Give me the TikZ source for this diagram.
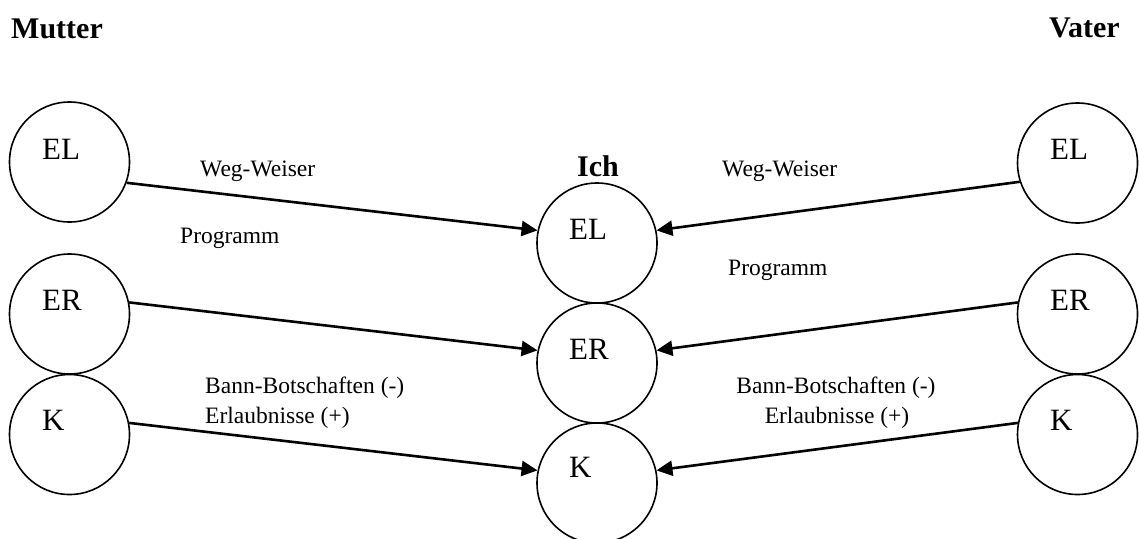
\documentclass[tikz,border=0pt]{standalone}
\usepackage{fontspec}
\setmainfont{Liberation Serif}
\usetikzlibrary{arrows.meta}
\begin{document}
\begin{tikzpicture}[x=1pt,y=-1pt,
  circ/.style={draw, circle, line width=1.6pt, minimum size=120pt, inner sep=0pt},
  clab/.style={anchor=base west, inner sep=0pt, font=\fontsize{31}{36}\selectfont},
  head/.style={anchor=base west, inner sep=0pt, font=\fontsize{30}{35}\selectfont\bfseries},
  small/.style={inner sep=0pt, font=\fontsize{23.5}{28}\selectfont},
  arr/.style={line width=2.6pt, -{Triangle[length=16pt,width=15pt]}}]
\useasboundingbox (0,0) rectangle (1139,538);
% headings
\node[head] (mutter) at (11,38) {Mutter};
\node[head] (vater) at (1049,37) {Vater};
\node[head, anchor=base] (ich) at (598,176) {Ich};
% circles
\node[circ] (mEL) at (69.5,162) {};
\node[circ] (mER) at (69.5,314) {};
\node[circ] (mK) at (69.5,434.5) {};
\node[circ] (iEL) at (597,243) {};
\node[circ] (iER) at (597,363) {};
\node[circ] (iK) at (597,483) {};
\node[circ] (vEL) at (1077.5,163) {};
\node[circ] (vER) at (1077.5,314) {};
\node[circ] (vK) at (1077.5,434.5) {};
% circle labels
\node[clab] (tmEL) at (42,159) {EL};
\node[clab] (tmER) at (42,310) {ER};
\node[clab] (tmK) at (42,430) {K};
\node[clab] (tiEL) at (569,239) {EL};
\node[clab] (tiER) at (569,359) {ER};
\node[clab] (tiK) at (569,477) {K};
\node[clab] (tvEL) at (1050,159) {EL};
\node[clab] (tvER) at (1050,310) {ER};
\node[clab] (tvK) at (1050,430) {K};
% connector labels
\node[small, anchor=base west] (lw1) at (200,176) {Weg-Weiser};
\node[small, anchor=base west] (lp1) at (180,243) {Programm};
\node[small, anchor=base west] (lw2) at (722,176) {Weg-Weiser};
\node[small, anchor=base west] (lp2) at (728,275) {Programm};
\node[small, anchor=base west] (lb1) at (205,393) {Bann-Botschaften (-)};
\node[small, anchor=base west] (le1) at (205,423) {Erlaubnisse (+)};
\node[small, anchor=base] (lb2) at (836,393) {Bann-Botschaften (-)};
\node[small, anchor=base] (le2) at (837,423) {Erlaubnisse (+)};
% arrows
\draw[arr] (mEL.-20) -- (iEL.168);
\draw[arr] (mER.11) -- (iER.168);
\draw[arr] (mK.11) -- (iK.168);
\draw[arr] (vEL.198) -- (iEL.12);
\draw[arr] (vER.169) -- (iER.12);
\draw[arr] (vK.169) -- (iK.12);
\end{tikzpicture}
\end{document}
